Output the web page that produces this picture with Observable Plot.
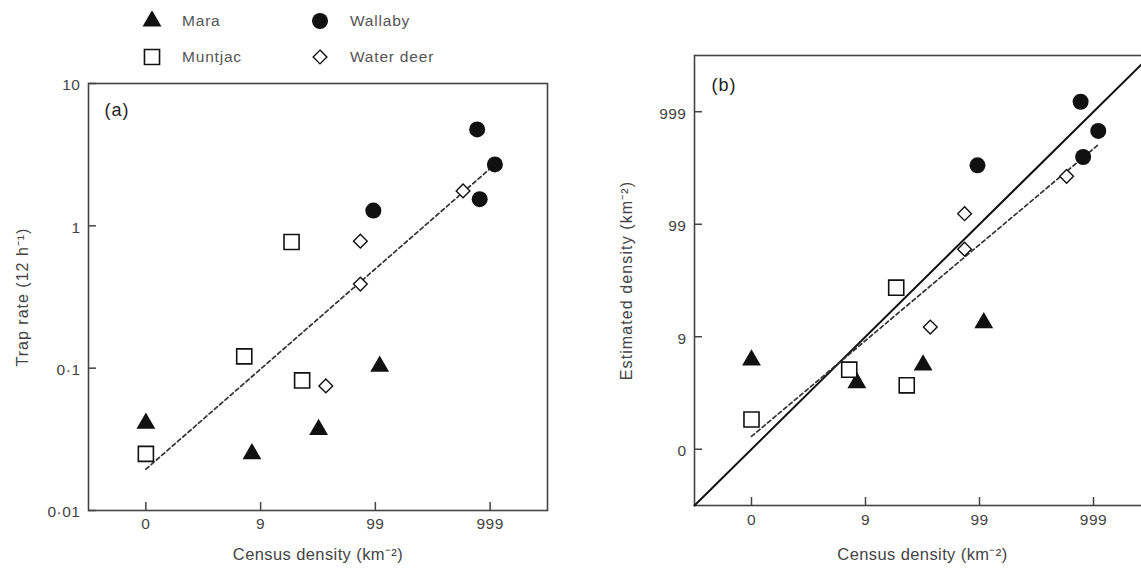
<!DOCTYPE html>
<html><head><meta charset="utf-8">
<script src="https://cdn.jsdelivr.net/npm/d3@7"></script>
<script src="https://cdn.jsdelivr.net/npm/@observablehq/plot@0.6"></script>
<style>
html,body{margin:0;padding:0;background:#fff;}
#wrap{position:relative;width:1141px;height:575px;overflow:hidden;font-family:"Liberation Sans",Arial,sans-serif;}
#wrap > svg{position:absolute;}
#wrap svg text{letter-spacing:0.5px;}
.leg{position:absolute;font-size:15.5px;letter-spacing:0.8px;color:#555;display:flex;align-items:center;}
.leg svg{position:static;margin-right:20px;}
</style></head><body><div id="wrap"></div>
<script>
// ---- data (census density and estimates in km^-2, trap rate per 12 h) ----
const species = ["Mara", "Muntjac", "Wallaby", "Water deer"];
const maraCensus = [0, 7.4, 31, 108];
const maraTrapRate = [0.041, 0.025, 0.037, 0.103];
const maraEstimated = [5.2, 2.9, 4.6, 12.3];
const muntjacCensus = [0, 6.2, 17.6, 22];
const muntjacTrapRate = [0.025, 0.121, 0.77, 0.082];
const muntjacEstimated = [0.84, 4.1, 26.3, 2.7];
const wallabyCensus = [95, 770, 810, 1100];
const wallabyTrapRate = [1.28, 4.76, 1.54, 2.70];
const wallabyEstimated = [333, 1226, 395, 675];
const waterDeerCensus = [36, 73, 73, 580];
const waterDeerTrapRate = [0.075, 0.78, 0.39, 1.76];
const waterDeerEstimated = [11.2, 123, 59, 266];
// regression lines (end points)
const fitCensus = [0, 1100];
const fitTrapRate = [0.0195, 2.7];
const fitEstimated = [0.3, 508];
// ticks
const densityTickValues = [0, 9, 99, 999];
const densityTickLabels = ["0", "9", "99", "999"];
const trapTickValues = [0.01, 0.1, 1, 10];
const trapTickLabels = ["0·01", "0·1", "1", "10"];
const logDensityDomain = [-0.5, 3.5]; // log10(density + 1)
const trapDomain = [0.01, 10];
// texts
const xTitle = "Census density (km⁻²)";
const yTitleA = "Trap rate (12 h⁻¹)";
const yTitleB = "Estimated density (km⁻²)";

// ---- build tables ----
const censusBy = {Mara: maraCensus, Muntjac: muntjacCensus, Wallaby: wallabyCensus, "Water deer": waterDeerCensus};
const trapBy = {Mara: maraTrapRate, Muntjac: muntjacTrapRate, Wallaby: wallabyTrapRate, "Water deer": waterDeerTrapRate};
const estBy = {Mara: maraEstimated, Muntjac: muntjacEstimated, Wallaby: wallabyEstimated, "Water deer": waterDeerEstimated};
const rows = species.flatMap(s => censusBy[s].map((c, i) => ({species: s, census: c, trap: trapBy[s][i], est: estBy[s][i]})));
const fitRows = fitCensus.map((c, i) => ({census: c, trap: fitTrapRate[i], est: fitEstimated[i]}));

const lg = v => Math.log10(v + 1);
const densityTicks = densityTickValues.map(lg);
const fmtDensity = d => densityTickLabels[densityTicks.findIndex(t => Math.abs(t - d) < 1e-9)];
const fmtTrap = d => trapTickLabels[trapTickValues.findIndex(t => Math.abs(t - d) < 1e-12)];

const ink = "#111";
const grey = "#444";
const styles = {
  Mara: {symbol: "triangle", r: 7, fill: ink, stroke: "none"},
  Wallaby: {symbol: "circle", r: 8, fill: ink, stroke: "none"},
  Muntjac: {symbol: "square", r: 8.5, fill: "white", stroke: ink, strokeWidth: 1.6},
  "Water deer": {symbol: "diamond2", r: 6.2, fill: "white", stroke: ink, strokeWidth: 1.4}
};
const font = '"Liberation Sans", Arial, sans-serif';
const tickLen = 8;

function dots(yKey) {
  return species.map(s => Plot.dot(rows.filter(d => d.species === s), {
    x: d => lg(d.census), y: yKey, ...styles[s]
  }));
}
// inward tick marks drawn as short rules
function inwardTicks(xTicks, yTicks, frameW, frameH) {
  return [
    Plot.ruleX(xTicks, {x: d => d, insetTop: frameH - tickLen, stroke: grey, strokeWidth: 1.5}),
    Plot.ruleY(yTicks, {y: d => d, insetRight: frameW - tickLen, stroke: grey, strokeWidth: 1.5})
  ];
}

// ---- panel (a) ----
const A = {width: 570, height: 505, marginLeft: 88, marginRight: 23, marginTop: 13, marginBottom: 65};
const plotA = Plot.plot({
  ...A,
  style: {fontFamily: font, fontSize: "15px", color: grey, background: "transparent", overflow: "visible"},
  x: {domain: logDensityDomain, label: null},
  y: {type: "log", domain: trapDomain, label: null},
  marks: [
    Plot.axisX(densityTicks, {tickSize: 0, tickPadding: 7, tickFormat: fmtDensity, fontSize: 15.5, label: null}),
    Plot.axisY(trapTickValues, {tickSize: 0, tickPadding: 8, dy: 2, tickFormat: fmtTrap, fontSize: 15.5, label: null}),
    ...inwardTicks(densityTicks, trapTickValues, A.width - A.marginLeft - A.marginRight, A.height - A.marginTop - A.marginBottom),
    Plot.frame({stroke: grey, strokeWidth: 1.6}),
    Plot.line(fitRows, {x: d => lg(d.census), y: "trap", stroke: "#333", strokeWidth: 1.7, strokeDasharray: "4,3"}),
    ...dots("trap"),
    Plot.text(["(a)"], {text: d => d, frameAnchor: "top-left", dx: 16, dy: 20, fontSize: 18, fill: "#222", textAnchor: "start"}),
    Plot.text([xTitle], {text: d => d, frameAnchor: "bottom", dy: 49, fontSize: 16.5, fill: grey, textAnchor: "middle"}),
    Plot.text([yTitleA], {text: d => d, frameAnchor: "left", dx: -66, rotate: -90, fontSize: 16, fill: grey, textAnchor: "middle"})
  ]
});
plotA.style.left = "0px"; plotA.style.top = "70px";

// ---- panel (b) ----
const B = {width: 580, height: 575, marginLeft: 114, marginRight: 10, marginTop: 55, marginBottom: 70};
const plotB = Plot.plot({
  ...B,
  style: {fontFamily: font, fontSize: "15px", color: grey, background: "transparent", overflow: "visible"},
  x: {domain: logDensityDomain, label: null},
  y: {domain: logDensityDomain, label: null},
  marks: [
    Plot.axisX(densityTicks, {tickSize: 0, tickPadding: 8, tickFormat: fmtDensity, fontSize: 15.5, label: null}),
    Plot.axisY(densityTicks, {tickSize: 0, tickPadding: 8, dy: 2, tickFormat: fmtDensity, fontSize: 15.5, label: null}),
    ...inwardTicks(densityTicks, densityTicks, B.width - B.marginLeft - B.marginRight, B.height - B.marginTop - B.marginBottom),
    Plot.frame({stroke: grey, strokeWidth: 1.6}),
    Plot.line(logDensityDomain, {x: d => d, y: d => d, stroke: ink, strokeWidth: 2}),
    Plot.line(fitRows, {x: d => lg(d.census), y: d => lg(d.est), stroke: "#333", strokeWidth: 1.7, strokeDasharray: "4,3"}),
    ...dots(d => lg(d.est)),
    Plot.text(["(b)"], {text: d => d, frameAnchor: "top-left", dx: 17, dy: 23, fontSize: 18, fill: "#222", textAnchor: "start"}),
    Plot.text([xTitle], {text: d => d, frameAnchor: "bottom", dy: 54, fontSize: 16.5, fill: grey, textAnchor: "middle"}),
    Plot.text([yTitleB], {text: d => d, frameAnchor: "left", dx: -68, rotate: -90, fontSize: 16, fill: grey, textAnchor: "middle"})
  ]
});
plotB.style.left = "580px"; plotB.style.top = "0px";

const wrap = document.getElementById("wrap");
wrap.appendChild(plotA);
wrap.appendChild(plotB);

// tracking for the titles (the printed figure is slightly stretched)
const spacing = {"(a)": "1px", "(b)": "1px"};
spacing[xTitle] = "0.4px"; spacing[yTitleA] = "1px"; spacing[yTitleB] = "1.1px";
for (const t of wrap.querySelectorAll("svg text")) {
  const sp = spacing[t.textContent];
  if (sp) t.style.letterSpacing = sp;
}

// ---- legend ----
const legendPos = {Mara: [142, 21], Wallaby: [310, 21], Muntjac: [142, 57], "Water deer": [310, 57]};
const symbolType = {triangle: d3.symbolTriangle, circle: d3.symbolCircle, square: d3.symbolSquare, diamond2: d3.symbolDiamond2};
for (const s of species) {
  const st = styles[s];
  const item = document.createElement("div");
  item.className = "leg";
  const [lx, ly] = legendPos[s];
  item.style.left = lx + "px";
  item.style.top = (ly - 10) + "px";
  item.style.height = "20px";
  const path = d3.symbol(symbolType[st.symbol], Math.PI * st.r * st.r)();
  item.innerHTML = `<svg width="20" height="20" viewBox="-10 -10 20 20"><path d="${path}" fill="${st.fill}" stroke="${st.stroke}" stroke-width="${st.strokeWidth || 0}"/></svg><span>${s}</span>`;
  wrap.appendChild(item);
}
</script></body></html>
